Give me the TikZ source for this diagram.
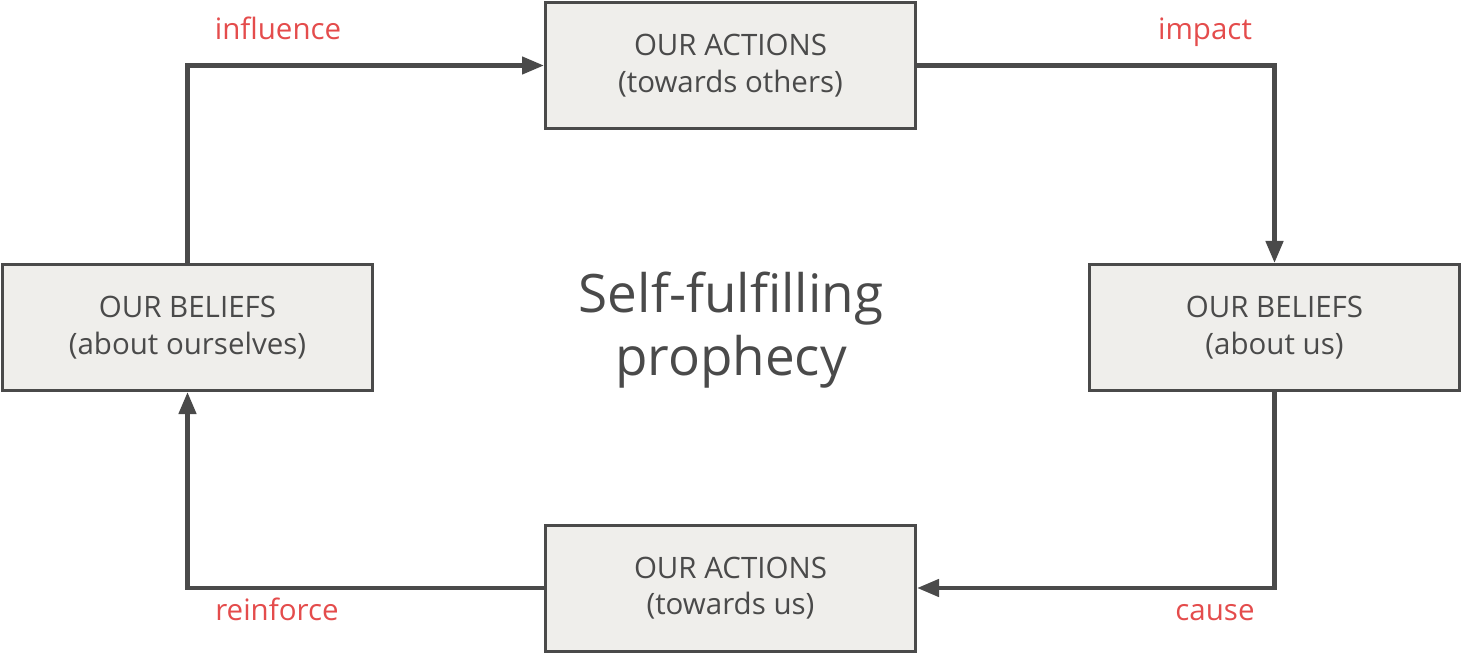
\documentclass[tikz,border=0pt]{standalone}
\usepackage{fontspec}
\setmainfont{Open Sans}
\definecolor{cydark}{RGB}{74,74,74}
\definecolor{cyfill}{RGB}{239,238,235}
\definecolor{cyred}{RGB}{228,76,76}
\usetikzlibrary{arrows.meta,positioning}
\tikzset{
  cbox/.style={draw=cydark, fill=cyfill, line width=3pt, text=cydark,
               font=\fontsize{29.5}{36.5}\selectfont, align=center,
               minimum width=370pt, minimum height=126pt, inner sep=0pt},
  lbl/.style={text=cyred, font=\fontsize{29.5}{34}\selectfont,
              anchor=base, inner sep=0pt},
  title/.style={text=cydark, font=\fontsize{53}{63}\selectfont, align=center},
  flow/.style={draw=cydark, line width=4.5pt,
               -{Triangle[length=22pt, width=17pt]}},
}

\begin{document}
\begin{tikzpicture}[x=1pt, y=-1pt]
\useasboundingbox (0,0) rectangle (1462,655);

% Boxes of the cycle
\node[cbox] (actothers) at (730.5,65.5) {OUR ACTIONS\\(towards others)};
\node[cbox] (beliefsus) at (1274.5,327.5) {OUR BELIEFS\\(about us)};
\node[cbox] (actus) at (730.5,588) {OUR ACTIONS\\(towards us)};
\node[cbox] (beliefsself) at (187.5,327.5) {OUR BELIEFS\\(about ourselves)};

% Centre title
\node[title] (prophecy) at (731,330) {Self-fulfilling\\prophecy};

% Connectors
\draw[flow] (beliefsself.north) |- (actothers.west);
\draw[flow] (actothers.east) -| (beliefsus.north);
\draw[flow] (beliefsus.south) |- (actus.east);
\draw[flow] (actus.west) -| (beliefsself.south);

% Labels
\node[lbl] (influence) at (278,40) {influence};
\node[lbl] (impact) at (1205,40) {impact};
\node[lbl] (cause) at (1215,620) {cause};
\node[lbl] (reinforce) at (277,620) {reinforce};

\end{tikzpicture}
\end{document}
